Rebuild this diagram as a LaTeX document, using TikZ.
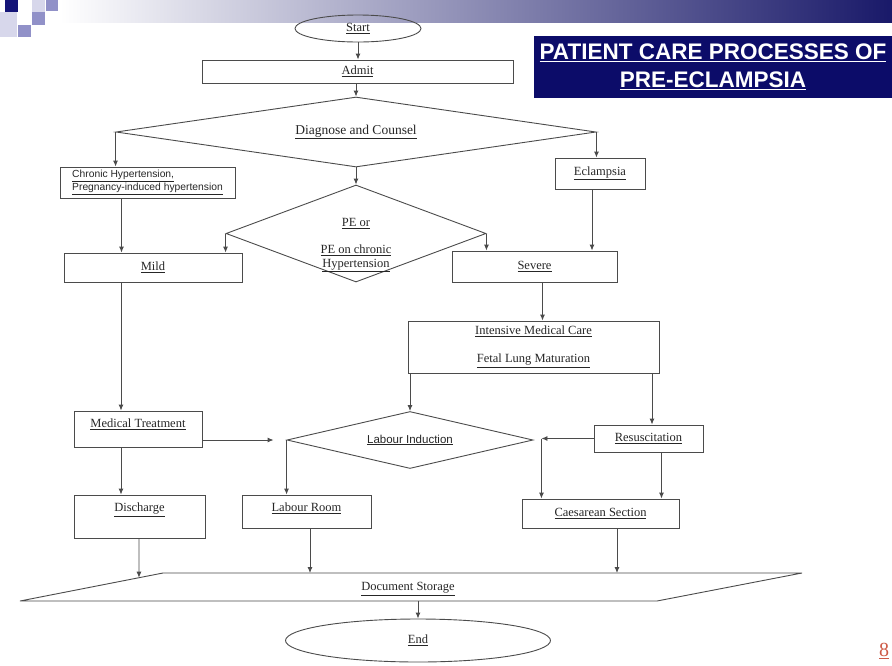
\documentclass[tikz,border=0pt]{standalone}
\usepackage{fontspec}
\setmainfont{Liberation Serif}
\setsansfont{Liberation Sans}
\usetikzlibrary{arrows.meta, shapes.geometric, calc}

\definecolor{linegray}{RGB}{75,75,75}
\definecolor{titlenavy}{RGB}{12,12,105}
\definecolor{pagered}{RGB}{205,90,70}
\definecolor{bannermid}{RGB}{165,165,185}
\definecolor{bannerdark}{RGB}{25,25,105}
\definecolor{sqnavy}{RGB}{20,20,120}
\definecolor{sqmid}{RGB}{145,145,200}
\definecolor{sqpale}{RGB}{215,215,235}

\newcommand{\ulined}[1]{\underline{#1}}
\newcommand{\flowfont}{\fontsize{12.5}{14}\selectfont}

\begin{document}
\begin{tikzpicture}[x=1pt, y=-1pt,
  procbox/.style={draw=linegray, line width=0.9pt, rectangle, inner sep=2pt, font=\flowfont, text=black!85},
  decision/.style={draw=linegray, line width=0.9pt, diamond, inner sep=0pt, font=\flowfont, text=black!85},
  terminal/.style={draw=linegray, line width=0.9pt, ellipse, inner sep=0pt, font=\flowfont, text=black!85},
  flow/.style={-{Latex[length=6pt, width=5pt]}, line width=0.9pt, linegray},
]
\useasboundingbox (0,0) rectangle (892,665);

% Banner and logo
\shade[left color=white, middle color=bannermid, right color=bannerdark] (60,0) rectangle (892,22);
\fill[sqnavy] (5,0) rectangle (18,12);
\fill[sqpale] (32,0) rectangle (45,12);
\fill[sqmid] (46,0) rectangle (58,11);
\fill[sqpale] (0,12) rectangle (17,25);
\fill[sqmid] (32,12) rectangle (45,25);
\fill[sqpale] (0,25) rectangle (17,37);
\fill[sqmid] (18,25) rectangle (31,37);

% Title
\node[fill=titlenavy, minimum width=358, minimum height=62, inner sep=0pt, align=center, text=white,
  font=\sffamily\bfseries\fontsize{22.5}{28}\selectfont] (title) at (713,67)
  {\ulined{PATIENT CARE PROCESSES OF}\\\ulined{PRE-ECLAMPSIA}};

% Top
\node[terminal, minimum width=126, minimum height=27] (start) at (358,28.5) {\ulined{Start}};
\node[procbox, minimum width=311, minimum height=23] (admit) at (357.5,71.5) {\ulined{Admit}};
\node[decision, aspect=6.86, minimum width=480, minimum height=70, font=\fontsize{13.5}{15}\selectfont] (diag) at (356,132)
  {\ulined{Diagnose and Counsel}};

% Classification
\node[procbox, minimum width=175, minimum height=31, align=left, font=\sffamily\fontsize{10.3}{13}\selectfont] (chronic) at (147.5,182.5)
  {\ulined{Chronic Hypertension,}\\\ulined{Pregnancy-induced hypertension}};
\node[decision, aspect=2.68, minimum width=260, minimum height=97] (pe) at (356,233.5)
  {\raisebox{-14pt}[0pt][0pt]{\begin{tabular}{@{}c@{}}\ulined{PE or}\\[13pt]\ulined{PE on chronic}\\\ulined{Hypertension}\end{tabular}}};
\node[procbox, minimum width=90, minimum height=31] (eclampsia) at (600,173.5) {\ulined{Eclampsia}};
\node[procbox, minimum width=178, minimum height=29] (mild) at (153,267.5) {\ulined{Mild}};
\node[procbox, minimum width=165, minimum height=31] (severe) at (534.5,266.5) {\ulined{Severe}};

% Care
\node[procbox, minimum width=251, minimum height=52, align=center] (intensive) at (533.5,347)
  {\ulined{Intensive Medical Care}\\[14pt]\ulined{Fetal Lung Maturation}};
\node[procbox, minimum width=128, minimum height=36, text depth=11pt] (medtreat) at (138,429) {\ulined{Medical Treatment}};
\node[decision, aspect=4.3, minimum width=246, minimum height=57, font=\sffamily\fontsize{11.5}{13}\selectfont] (labind) at (410,440)
  {\ulined{Labour Induction}};
\node[procbox, minimum width=109, minimum height=27] (resus) at (648.5,438.5) {\ulined{Resuscitation}};

% Outcome
\node[procbox, minimum width=131, minimum height=43, text depth=18pt] (discharge) at (139.5,516.5) {\ulined{Discharge}};
\node[procbox, minimum width=129, minimum height=33, text depth=8pt] (labroom) at (306.5,511.5) {\ulined{Labour Room}};
\node[procbox, minimum width=157, minimum height=29] (caes) at (600.5,513.5) {\ulined{Caesarean Section}};

% Document storage
\coordinate (ds-tl) at (163,573);
\coordinate (ds-tr) at (802,573);
\coordinate (ds-br) at (657,601);
\coordinate (ds-bl) at (20,601);
\draw[linegray, line width=0.9pt] (ds-tl) -- (ds-tr) -- (ds-br) -- (ds-bl) -- cycle;
\node[font=\flowfont, text=black!85] (docstore) at (408,589) {\ulined{Document Storage}};
\node[terminal, minimum width=265, minimum height=43] (end) at (418,640.5) {\ulined{End}};

\node[text=pagered, font=\fontsize{20}{22}\selectfont] (pagenum) at (884,651) {\ulined{8}};

% Free ends
\coordinate (li-in) at ([xshift=-13]labind.west);
\coordinate (li-out) at ($(labind.east |- resus.west)+(8,0)$);
\coordinate (ds-in) at ($(ds-bl)!0.832!(ds-tl)$);

% Connectors
\draw[flow] (start.south) -- (start.south |- admit.north);
\draw[flow] (admit.south -| diag.north) -- (diag.north);
\draw[flow] (diag.west) -- (diag.west |- chronic.north);
\draw[flow] (diag.south) -- (pe.north);
\draw[flow] (diag.east) -- (diag.east |- eclampsia.north);
\draw[flow] ([xshift=-26]chronic.south) -- ([xshift=-26]chronic.south |- mild.north);
\draw[flow] (pe.west) -- (pe.west |- mild.north);
\draw[flow] (pe.east) -- (pe.east |- severe.north);
\draw[flow] ([xshift=-8]eclampsia.south) -- ([xshift=-8]eclampsia.south |- severe.north);
\draw[flow] ([xshift=8]severe.south) -- ([xshift=8]severe.south |- intensive.north);
\draw[flow] ([xshift=-32]mild.south) -- ([xshift=-32]mild.south |- medtreat.north);
\draw[flow] ([xshift=-17]medtreat.south) -- ([xshift=-17]medtreat.south |- discharge.north);
\draw[flow] ([yshift=-11]medtreat.east) -- (li-in);
\draw[flow] (labind.north |- intensive.south) -- (labind.north);
\draw[flow] (labind.west) -- (labind.west |- labroom.north);
\draw[flow] ([xshift=118.5]intensive.south) -- ([xshift=118.5]intensive.south |- resus.north);
\draw[flow] (resus.west) -- (li-out);
\draw[flow] (li-out) -- (li-out |- caes.north);
\draw[flow] ([xshift=13]resus.south) -- ([xshift=13]resus.south |- caes.north);
\draw[flow] ([xshift=-0.5]discharge.south) -- (ds-in);
\draw[flow] ([xshift=3.5]labroom.south) -- ([xshift=3.5]labroom.south |- ds-tl);
\draw[flow] ([xshift=16.5]caes.south) -- ([xshift=16.5]caes.south |- ds-tl);
\draw[flow] (end.north |- ds-bl) -- (end.north);
\end{tikzpicture}
\end{document}
